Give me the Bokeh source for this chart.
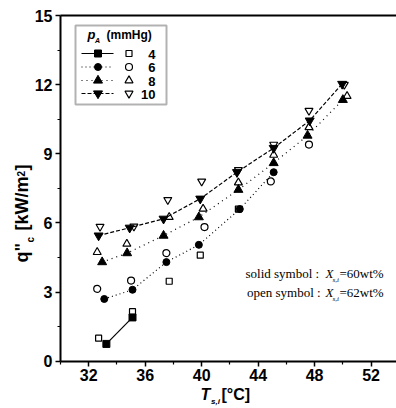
from math import pi
from bokeh.plotting import figure
from bokeh.models import Label, FixedTicker, LinearAxis, Range1d, BoxAnnotation
from bokeh.embed import file_html
from bokeh.resources import INLINE

# ---------------- data ----------------
pressures = ["4", "6", "8", "10"]

x4_solid = [33.25, 35.1]
y4_solid = [0.75, 1.9]
x4_open = [32.7, 35.1, 37.7, 39.9, 42.6]
y4_open = [1.0, 2.15, 3.47, 4.6, 6.6]

x6_solid = [33.1, 35.1, 37.5, 39.8, 42.7, 45.1]
y6_solid = [2.7, 3.1, 4.3, 5.05, 6.6, 8.2]
x6_open = [32.6, 35.0, 37.5, 40.2, 44.9, 47.6]
y6_open = [3.14, 3.5, 4.69, 5.82, 7.8, 9.4]

x8_solid = [32.95, 34.72, 37.3, 39.8, 42.6, 45.1, 47.5, 50.0]
y8_solid = [4.3, 4.69, 5.45, 6.25, 7.44, 8.6, 9.79, 11.34]
x8_open = [32.6, 34.7, 37.7, 40.1, 42.6, 45.1, 47.6, 50.3]
y8_open = [4.73, 5.09, 6.25, 6.61, 7.75, 8.95, 10.15, 11.5]

x10_solid = [32.7, 34.9, 37.3, 39.9, 42.5, 45.1, 47.65, 49.95]
y10_solid = [5.45, 5.79, 6.18, 7.05, 8.2, 9.25, 10.44, 12.03]
x10_open = [32.8, 35.2, 37.6, 40.0, 42.6, 45.1, 47.6, 50.1]
y10_open = [5.84, 5.85, 7.0, 7.8, 8.3, 9.4, 10.87, 12.0]

x_ticks = [32, 36, 40, 44, 48, 52]
x_minor = [30, 34, 38, 42, 46, 50]
y_ticks = [0, 3, 6, 9, 12, 15]
y_minor = [1.5, 4.5, 7.5, 10.5, 13.5]

# ---------------- geometry ----------------
W, H = 396, 408
AX_X0, AX_X1 = 30.0, 53.8      # x extent of the plotting box
AX_Y0, AX_Y1 = 0.0, 15.0       # y extent of the plotting box
PL, PR, PT, PB = 60.0, 396.0, 15.0, 360.7   # pixel edges of the plotting box
kx = (AX_X1 - AX_X0) / (PR - PL)
ky = (AX_Y1 - AX_Y0) / (PB - PT)
XR = (AX_X0 - PL * kx, AX_X0 + (W - PL) * kx)
YR = (AX_Y1 - (H - PT) * ky, AX_Y1 + PT * ky)


def X(px):
    return AX_X0 + (px - PL) * kx


def Y(py):
    return AX_Y1 - (py - PT) * ky


p = figure(width=W, height=H, min_border=0,
           x_range=Range1d(*XR), y_range=Range1d(*YR),
           output_backend="svg", toolbar_location=None)
p.outline_line_color = None
p.xgrid.visible = False
p.ygrid.visible = False
p.background_fill_color = "white"
p.border_fill_color = "white"

SANS = "Liberation Sans"
SERIF = "Liberation Serif"

p.xaxis[0].fixed_location = AX_Y0
p.yaxis[0].fixed_location = AX_X0
for ax, ticks, minor, bnds in ((p.xaxis[0], x_ticks, x_minor, (AX_X0, AX_X1)),
                               (p.yaxis[0], y_ticks, y_minor, (AX_Y0, AX_Y1))):
    ax.ticker = FixedTicker(ticks=ticks, minor_ticks=minor)
    ax.bounds = bnds
    ax.axis_line_width = 2
    ax.axis_line_color = "black"
    ax.major_tick_out = 5
    ax.major_tick_in = 0
    ax.minor_tick_out = 3
    ax.minor_tick_in = 0
    ax.major_tick_line_width = 1.5
    ax.minor_tick_line_width = 1.2
    ax.major_tick_line_color = "black"
    ax.minor_tick_line_color = "black"
    ax.major_label_text_font = SANS
    ax.major_label_text_font_style = "bold"
    ax.major_label_text_font_size = "16px"
    ax.major_label_text_color = "black"
    ax.major_label_standoff = 3

top = LinearAxis(ticker=FixedTicker(ticks=[]), fixed_location=AX_Y1, bounds=(AX_X0, AX_X1),
                 axis_line_width=2, axis_line_color="black",
                 major_label_text_font_size="0px", major_tick_line_color=None,
                 minor_tick_line_color=None)
p.add_layout(top, "above")

# ---------------- series ----------------
series = [
    (x4_solid, y4_solid, x4_open, y4_open, "square", "solid", 7, 6),
    (x6_solid, y6_solid, x6_open, y6_open, "circle", "1 3", 7, 7),
    (x8_solid, y8_solid, x8_open, y8_open, "triangle", "1 4", 9, 8),
    (x10_solid, y10_solid, x10_open, y10_open, "inverted_triangle", "4 2", 9, 8),
]
for xs, ys, xo, yo, mk, dash, s_solid, s_open in series:
    p.line(xs, ys, line_color="black", line_width=1.2, line_dash=dash)
    p.scatter(xs, ys, marker=mk, size=s_solid, fill_color="black", line_color="black")
    p.scatter(xo, yo, marker=mk, size=s_open, fill_color=None, line_color="black",
              line_width=1.2)

# ---------------- legend (drawn by hand) ----------------
p.add_layout(BoxAnnotation(left=X(75), right=X(166), top=Y(25), bottom=Y(104),
                           fill_color=None, line_color="black", line_width=2))
p.add_layout(Label(x=X(87), y=Y(41), text="p", text_font=SANS, text_font_style="bold italic",
                   text_font_size="13px", text_color="black"))
p.add_layout(Label(x=X(94.5), y=Y(43), text="A", text_font=SANS, text_font_style="bold italic",
                   text_font_size="7px", text_color="black"))
p.add_layout(Label(x=X(106), y=Y(41), text="(mmHg)", text_font=SANS, text_font_style="bold",
                   text_font_size="12px", text_color="black"))
rows_py = [53, 66.5, 80, 93]
for (xs, ys, xo, yo, mk, dash, s_solid, s_open), lab, py in zip(series, pressures, rows_py):
    p.line([X(81), X(113)], [Y(py), Y(py)], line_color="black", line_width=1.2, line_dash=dash)
    p.scatter([X(97.5)], [Y(py)], marker=mk, size=s_solid, fill_color="black", line_color="black")
    p.scatter([X(128.5)], [Y(py)], marker=mk, size=s_open, fill_color=None, line_color="black",
              line_width=1.2)
    p.add_layout(Label(x=X(155), y=Y(py + 5), text=lab, text_align="right", text_font=SANS,
                       text_font_style="bold", text_font_size="13px", text_color="black"))

# ---------------- annotation text ----------------
for base, word, num in ((280, "solid symbol : ", "=60wt%"), (299, "open symbol : ", "=62wt%")):
    x0 = 245 if word.startswith("solid") else 246.5
    p.add_layout(Label(x=X(x0), y=Y(base), text=word, text_font=SERIF, text_font_size="13px",
                       text_color="black"))
    p.add_layout(Label(x=X(325), y=Y(base), text="X", text_font=SERIF, text_font_style="italic",
                       text_font_size="13px", text_color="black"))
    p.add_layout(Label(x=X(332), y=Y(base + 3), text="s,i", text_font=SERIF,
                       text_font_style="italic", text_font_size="7px", text_color="black"))
    p.add_layout(Label(x=X(339), y=Y(base), text=num, text_font=SERIF, text_font_size="13px",
                       text_color="black"))

# ---------------- axis titles ----------------
p.add_layout(Label(x=X(200), y=Y(402), text="T", text_font=SANS, text_font_style="bold italic",
                   text_font_size="16px", text_color="black"))
p.add_layout(Label(x=X(210.5), y=Y(405), text="s,i", text_font=SANS, text_font_style="bold italic",
                   text_font_size="8px", text_color="black"))
p.add_layout(Label(x=X(221), y=Y(402), text="[°C]", text_font=SANS, text_font_style="bold",
                   text_font_size="16px", text_color="black"))

# rotated y title: baseline at px=31.5, reading upward
p.add_layout(Label(x=X(31.5), y=Y(262), text="q\"", angle=pi / 2, text_font=SANS,
                   text_font_style="bold", text_font_size="18px", text_color="black"))
p.add_layout(Label(x=X(35), y=Y(242), text="c", angle=pi / 2, text_font=SANS,
                   text_font_style="bold", text_font_size="10px", text_color="black"))
p.add_layout(Label(x=X(31.5), y=Y(230), text="[kW/m", angle=pi / 2, text_font=SANS,
                   text_font_style="bold", text_font_size="18px", text_color="black"))
p.add_layout(Label(x=X(24), y=Y(176), text="2", angle=pi / 2, text_font=SANS,
                   text_font_style="bold", text_font_size="10px", text_color="black"))
p.add_layout(Label(x=X(31.5), y=Y(170), text="]", angle=pi / 2, text_font=SANS,
                   text_font_style="bold", text_font_size="18px", text_color="black"))

open("out.html", "w").write(file_html(p, INLINE))
